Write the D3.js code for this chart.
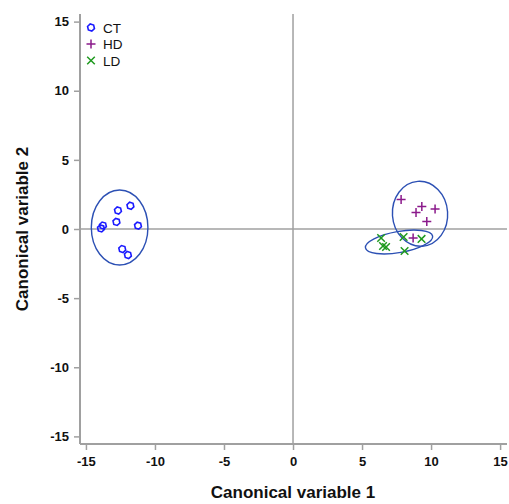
<!DOCTYPE html>
<html><head><meta charset="utf-8">
<script src="https://cdn.jsdelivr.net/npm/d3@7"></script>
<style>body{margin:0;background:#fff;}svg{display:block;font-family:Arial,"Liberation Sans",sans-serif;}</style>
</head><body><svg id="c" width="509" height="504"></svg>
<script>
const groups = ["CT", "HD", "LD"];
const ctX = [-11.78, -12.68, -12.79, -13.77, -13.91, -11.23, -12.37, -11.96];
const ctY = [1.68, 1.34, 0.51, 0.25, 0.04, 0.24, -1.45, -1.88];
const hdX = [7.83, 9.33, 10.29, 8.91, 9.69, 8.70];
const hdY = [2.13, 1.63, 1.45, 1.19, 0.54, -0.65];
const ldX = [6.38, 6.52, 6.74, 8.01, 9.31, 8.08];
const ldY = [-0.65, -1.23, -1.30, -0.58, -0.72, -1.59];
// ellipses: center x, center y, semi-axis x, semi-axis y (data units), rotation deg
const ellCx = [-12.56, 9.2, 7.68];
const ellCy = [0.11, 1.1, -0.94];
const ellRx = [2.05, 2.0, 2.47];
const ellRy = [2.71, 2.35, 0.76];
const ellRot = [0, -4, -10];
const ticks = [-15, -10, -5, 0, 5, 10, 15];

const colors = {CT: "#1a1aff", HD: "#8b1a8b", LD: "#1f9a1f"};
const ellColor = "#2c50b4";

const svg = d3.select("#c");
const x = d3.scaleLinear().domain([-15.43, 15.5]).range([80, 507]);
const y = d3.scaleLinear().domain([-15.55, 15.55]).range([444, 14]);

// reference lines
svg.append("line").attr("x1", x(0)).attr("x2", x(0)).attr("y1", y(15.55)).attr("y2", y(-15.55))
  .attr("stroke", "#a0a0a0").attr("stroke-width", 1.5);
svg.append("line").attr("x1", x(-15.43)).attr("x2", x(15.5)).attr("y1", y(0)).attr("y2", y(0))
  .attr("stroke", "#a0a0a0").attr("stroke-width", 1.5);

// axes
const gx = svg.append("g").attr("transform", `translate(0,${y(-15.55)})`)
  .call(d3.axisBottom(x).tickValues(ticks).tickSize(6).tickPadding(7).tickFormat(d3.format("d")));
const gy = svg.append("g").attr("transform", `translate(${x(-15.43)},0)`)
  .call(d3.axisLeft(y).tickValues(ticks).tickSize(6).tickPadding(5).tickFormat(d3.format("d")));
[gx, gy].forEach(g => {
  g.select(".domain").attr("stroke", "#a0a0a0").attr("stroke-width", 2);
  g.selectAll(".tick line").attr("stroke", "#a0a0a0").attr("stroke-width", 1.5);
  g.selectAll(".tick text").attr("fill", "#111").style("font-size", "13px").style("font-weight", "bold")
    .text(d => d < 0 ? "-" + Math.abs(d) : d);
});
gy.select(".domain").attr("d", `M-0,${y(-15.55)}V${y(15.55)}`);
gx.select(".domain").attr("d", `M${x(-15.43)},0H${x(15.5)}`);

// axis titles
svg.append("text").attr("x", x(0)).attr("y", 498).attr("text-anchor", "middle")
  .style("font-size", "17px").style("font-weight", "bold").attr("fill", "#111").text("Canonical variable 1");
svg.append("text").attr("transform", `translate(28,${y(0)}) rotate(-90)`).attr("text-anchor", "middle")
  .style("font-size", "17px").style("font-weight", "bold").attr("fill", "#111").text("Canonical variable 2");

// ellipses
const kx = x(1) - x(0), ky = y(0) - y(1);
ellCx.forEach((cx, i) => {
  svg.append("ellipse").attr("cx", x(cx)).attr("cy", y(ellCy[i]))
    .attr("rx", ellRx[i] * kx).attr("ry", ellRy[i] * ky)
    .attr("transform", `rotate(${ellRot[i]},${x(cx)},${y(ellCy[i])})`)
    .attr("fill", "none").attr("stroke", ellColor).attr("stroke-width", 1.4);
});

// markers
function hexPath(r) {
  const pts = d3.range(6).map(k => {
    const a = Math.PI / 3 * k + 0.3;
    return [r * Math.cos(a), r * Math.sin(a)];
  });
  return "M" + pts.map(p => p.join(",")).join("L") + "Z";
}
function drawMarker(g, type, px, py) {
  if (type === "CT") {
    g.append("path").attr("d", hexPath(3.6)).attr("transform", `translate(${px},${py})`)
      .attr("fill", "none").attr("stroke", colors.CT).attr("stroke-width", 1.6);
  } else if (type === "HD") {
    g.append("path").attr("d", "M-4.5,0H4.5M0,-4.5V4.5").attr("transform", `translate(${px},${py})`)
      .attr("stroke", colors.HD).attr("stroke-width", 1.5);
  } else {
    g.append("path").attr("d", "M-3.8,-3.8L3.8,3.8M-3.8,3.8L3.8,-3.8").attr("transform", `translate(${px},${py})`)
      .attr("stroke", colors.LD).attr("stroke-width", 1.5);
  }
}
const pts = svg.append("g");
ctX.forEach((v, i) => drawMarker(pts, "CT", x(v), y(ctY[i])));
hdX.forEach((v, i) => drawMarker(pts, "HD", x(v), y(hdY[i])));
ldX.forEach((v, i) => drawMarker(pts, "LD", x(v), y(ldY[i])));

// legend
const lg = svg.append("g").attr("transform", "translate(91,27.5)");
groups.forEach((gname, i) => {
  drawMarker(lg, gname, 0, i * 16.5);
  lg.append("text").attr("x", 12).attr("y", i * 16.5 + 5).style("font-size", "13.5px")
    .attr("fill", "#111").text(gname);
});
</script></body></html>
